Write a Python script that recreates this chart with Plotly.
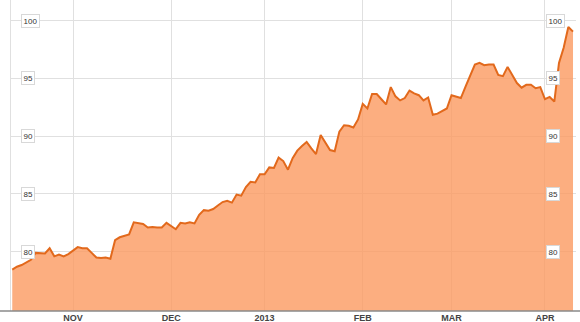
import pandas as pd
import plotly.graph_objects as go

# Trading days (NYSE) from Oct 11 2012 to Apr 9 2013
start_date = "2012-10-11"
end_date = "2013-04-09"
holidays = ["2012-10-29", "2012-10-30", "2012-11-22", "2012-12-25",
            "2013-01-01", "2013-01-21", "2013-02-18", "2013-03-29"]

oct_vals = [78.45, 78.7, 78.85, 79.05, 79.3, 79.9, 79.85, 79.85, 80.3, 79.6, 79.75, 79.6, 79.8]
nov_vals = [80.1, 80.4, 80.3, 80.3, 79.9, 79.5, 79.45, 79.5, 79.4, 81.0, 81.25, 81.4, 81.5,
            82.55, 82.5, 82.4, 82.1, 82.15, 82.1, 82.1, 82.5]
dec_vals = [82.2, 81.95, 82.5, 82.45, 82.55, 82.45, 83.2, 83.6, 83.55, 83.7, 84.0, 84.3, 84.4,
            84.25, 84.95, 84.85, 85.6, 86.05, 86.0, 86.7]
jan_vals = [86.7, 87.3, 87.25, 88.15, 87.85, 87.1, 88.1, 88.75, 89.15, 89.5, 88.95, 88.45,
            90.1, 89.5, 88.8, 88.7, 90.4, 90.95, 90.9, 90.75, 91.45]
feb_vals = [92.8, 92.4, 93.65, 93.65, 93.2, 92.75, 94.25, 93.45, 93.1, 93.3, 93.95, 93.7,
            93.55, 93.1, 93.35, 91.85, 91.95, 92.15, 92.4]
mar_vals = [93.55, 93.4, 93.3, 94.3, 95.3, 96.2, 96.35, 96.15, 96.2, 96.2, 95.3, 95.2, 96.0,
            95.3, 94.6, 94.2, 94.45, 94.45, 94.15, 94.25]
apr_vals = [93.2, 93.4, 93.0, 96.35, 97.65, 99.45, 99.05]

tick_dates = ["2012-11-01", "2012-12-03", "2013-01-02", "2013-02-01", "2013-03-01", "2013-04-01"]
tick_labels = ["NOV", "DEC", "2013", "FEB", "MAR", "APR"]
y_levels = [80, 85, 90, 95, 100]

days = pd.bdate_range(start_date, end_date)
days = days[~days.isin(pd.to_datetime(holidays))]
dates = [d.strftime("%Y-%m-%d") for d in days]
values = oct_vals + nov_vals + dec_vals + jan_vals + feb_vals + mar_vals + apr_vals
assert len(dates) == len(values), (len(dates), len(values))

fig = go.Figure()
fig.add_trace(go.Scatter(
    x=dates, y=values, mode="lines", fill="tozeroy",
    line=dict(color="#e2691c", width=2),
    fillcolor="rgba(251,154,96,0.8)",
    hoverinfo="skip",
))

i0 = dates.index("2012-11-01")
fig.update_layout(
    width=580, height=322,
    margin=dict(l=11, r=4, t=0, b=11),
    paper_bgcolor="white", plot_bgcolor="white",
    showlegend=False,
    xaxis=dict(
        type="category",
        range=[i0 - 13.27, i0 + 107.64],
        tickvals=tick_dates, ticktext=tick_labels,
        showgrid=True, gridcolor="#e0e0e0", gridwidth=1,
        ticks="", zeroline=False, showline=False,
        tickfont=dict(family="Arial, Liberation Sans, sans-serif", size=9, color="#444", weight="bold"),
        automargin=False,
    ),
    yaxis=dict(
        range=[74.87, 101.79],
        tickvals=y_levels, showticklabels=False,
        showgrid=True, gridcolor="#e0e0e0", gridwidth=1,
        zeroline=False, showline=True, linecolor="#e0e0e0", linewidth=1,
        ticks="", automargin=False,
    ),
)

# bottom axis line across full width
fig.add_shape(type="line", xref="paper", yref="paper",
              x0=-11 / 565, x1=569 / 565, y0=0, y1=0,
              line=dict(color="#8a8a8a", width=1.5))

for v in y_levels:
    for xp in (9.7 / 565, 534.5 / 565):
        fig.add_annotation(
            x=xp, xref="paper", y=v, yref="y", xanchor="left", yanchor="middle",
            text=str(v), showarrow=False,
            font=dict(family="Arial, Liberation Sans, sans-serif", size=8, color="#333"),
            bgcolor="white", bordercolor="#d8d8d8", borderwidth=1, borderpad=1.5,
        )

fig.write_html("out.html", config={"displayModeBar": False})
